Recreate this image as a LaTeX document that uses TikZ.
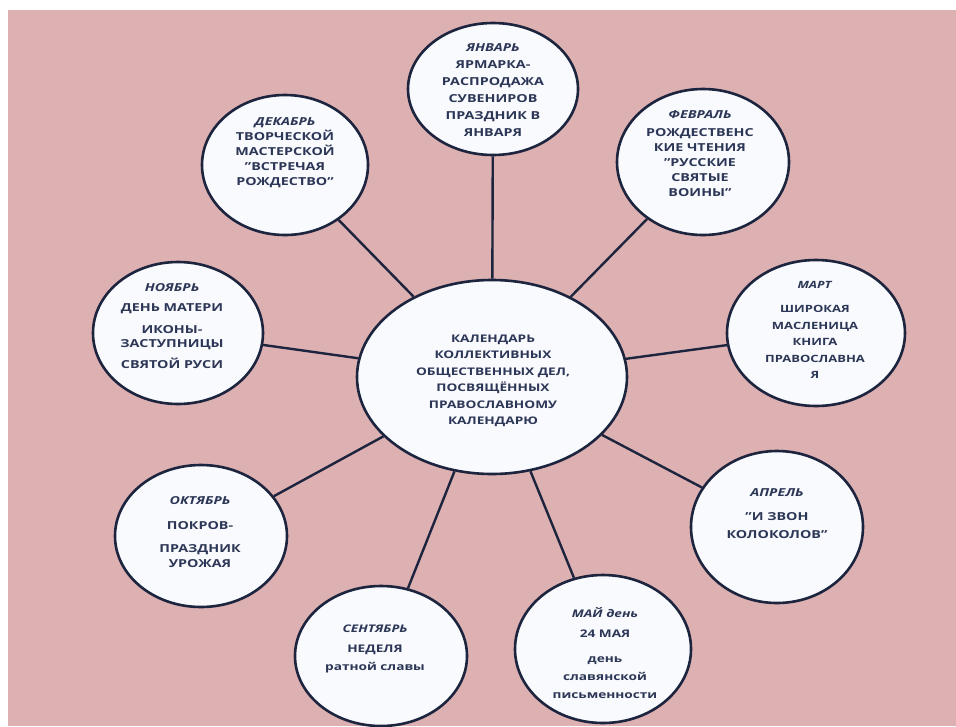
\documentclass[tikz,border=0pt]{standalone}
\usepackage{fontspec}
\setmainfont{Open Sans}[FakeStretch=1.3]
\usetikzlibrary{shapes.geometric}
\definecolor{bgpink}{RGB}{221,176,178}
\definecolor{rim}{RGB}{28,36,62}
\definecolor{ink}{RGB}{44,54,86}
\definecolor{disc}{RGB}{248,250,253}
\tikzset{
  bubble/.style={ellipse, draw=rim, line width=2.6pt, fill=disc, inner sep=0pt},
  spoke/.style={draw=rim, line width=2.4pt},
  txt/.style n args={2}{text=ink, align=center, inner sep=0pt, font=\bfseries\fontsize{#1}{#2}\selectfont},
}
\newcommand{\qq}{\symbol{34}}
\begin{document}
\begin{tikzpicture}[x=1pt,y=-1pt]
\useasboundingbox (0,0) rectangle (956,726);
\fill[bgpink] (8,10) rectangle (956,726);
% nodes
\node[bubble, minimum width=270pt, minimum height=194pt] (c) at (492,377) {};
\node[bubble, minimum width=170pt, minimum height=132pt] (jan) at (493,89) {};
\node[bubble, minimum width=166pt, minimum height=140pt] (dec) at (285,165) {};
\node[bubble, minimum width=172pt, minimum height=146pt] (feb) at (703,162) {};
\node[bubble, minimum width=178pt, minimum height=146pt] (mar) at (816,333) {};
\node[bubble, minimum width=170pt, minimum height=142pt] (nov) at (178,333) {};
\node[bubble, minimum width=172pt, minimum height=142pt] (oct) at (201,536) {};
\node[bubble, minimum width=172pt, minimum height=152pt] (apr) at (777,527) {};
\node[bubble, minimum width=172pt, minimum height=140pt] (sep) at (381,656) {};
\node[bubble, minimum width=176pt, minimum height=148pt] (may) at (603,649) {};
% connectors
\foreach \n in {jan,dec,feb,mar,nov,oct,apr,sep,may}
  \draw[spoke] (c) -- (\n);
% texts
\node[txt={10.5}{16.5}] (ct) at (493,381) {КАЛЕНДАРЬ\\КОЛЛЕКТИВНЫХ\\ОБЩЕСТВЕННЫХ ДЕЛ,\\ПОСВЯЩЁННЫХ\\ПРАВОСЛАВНОМУ\\КАЛЕНДАРЮ};
\node[txt={11}{17}] (jant) at (493,90) {\itshape ЯНВАРЬ\\ЯРМАРКА-\\РАСПРОДАЖА\\СУВЕНИРОВ\\ПРАЗДНИК В\\ЯНВАРЯ};
\node[txt={11}{15}] (dect) at (285,153) {\itshape ДЕКАБРЬ\\ТВОРЧЕСКОЙ\\МАСТЕРСКОЙ\\\qq ВСТРЕЧАЯ\\РОЖДЕСТВО\qq};
\node[txt={11}{15}] (febt) at (700,154) {\textit{ФЕВРАЛЬ}\\[3pt]РОЖДЕСТВЕНС\\КИЕ ЧТЕНИЯ\\\qq РУССКИЕ\\СВЯТЫЕ\\ВОИНЫ\qq};
\node[txt={10}{16.5}] (mart) at (815,330) {\textit{МАРТ}\\[8pt]ШИРОКАЯ\\МАСЛЕНИЦА\\КНИГА\\ПРАВОСЛАВНА\\Я};
\node[txt={11}{14}] (novt) at (172,326) {\textit{НОЯБРЬ}\\[6pt]ДЕНЬ МАТЕРИ\\[8pt]ИКОНЫ-\\ЗАСТУПНИЦЫ\\[7pt]СВЯТОЙ РУСИ};
\node[txt={11}{15}] (octt) at (200,532) {\textit{ОКТЯБРЬ}\\[10pt]ПОКРОВ-\\[8pt]ПРАЗДНИК\\УРОЖАЯ};
\node[txt={11}{18}] (aprt) at (777,514) {\textit{АПРЕЛЬ}\\[6pt]\qq И ЗВОН\\КОЛОКОЛОВ\qq};
\node[txt={10.5}{18}] (sept) at (375,649) {\textit{СЕНТЯБРЬ}\\[2pt]НЕДЕЛЯ\\ратной славы};
\node[txt={10.5}{18}] (mayt) at (605,653) {\textit{МАЙ день}\\[2pt]24 МАЯ\\[7pt]день\\славянской\\письменности};
\end{tikzpicture}
\end{document}
